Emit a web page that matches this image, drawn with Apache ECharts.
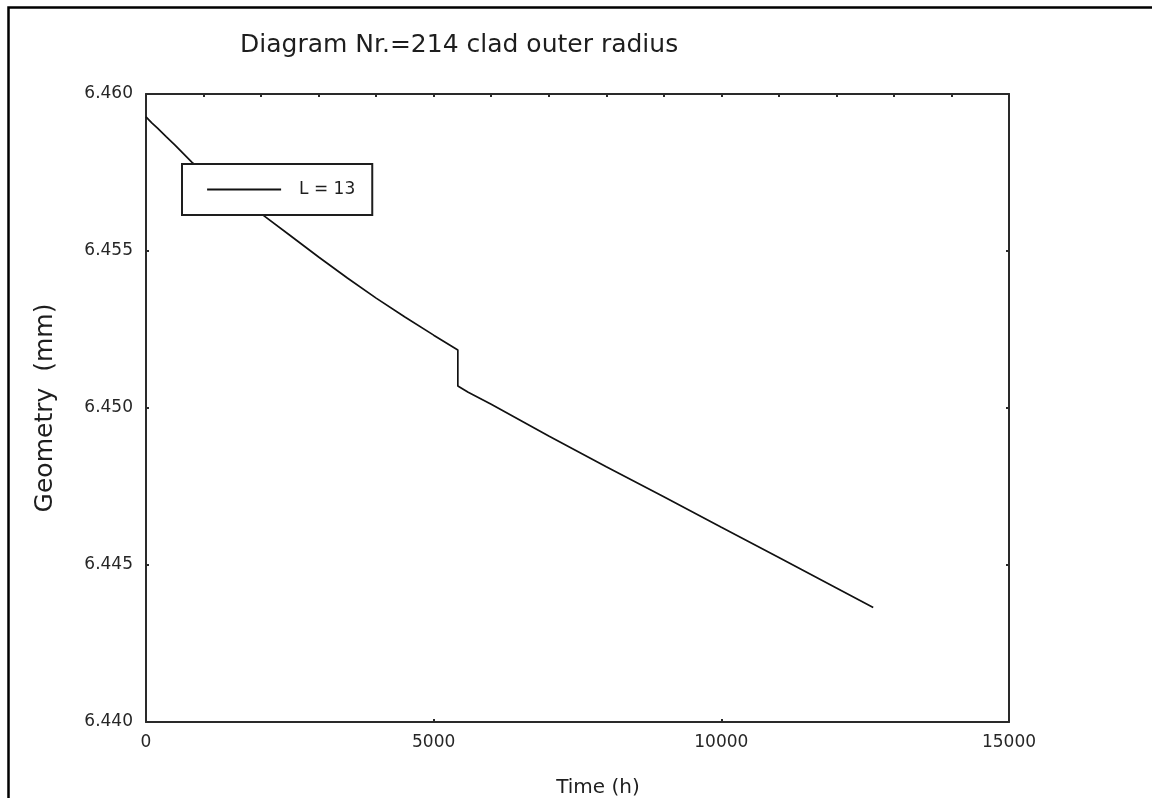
<!DOCTYPE html>
<html>
<head>
<meta charset="utf-8">
<script src="https://cdn.jsdelivr.net/npm/echarts@6/dist/echarts.min.js"></script>
<style>
html,body{margin:0;padding:0;background:#fff;}
#chart{width:1152px;height:798px;}
</style>
</head>
<body>
<div id="chart"></div>
<script>
// Data
const timeH = [0, 100, 200, 350, 500, 650, 800, 1200, 1600, 2000, 2500, 3000, 3500, 4000, 4500, 5000, 5420, 5420, 5600, 6000, 7000, 8000, 9000, 10000, 11000, 12000, 12640];
const geometryMm = [6.45927, 6.45908, 6.45891, 6.45864, 6.45838, 6.45810, 6.45782, 6.45725, 6.45670, 6.45619, 6.45550, 6.45481, 6.45414, 6.45350, 6.45290, 6.45232, 6.45185, 6.45070, 6.45050, 6.45012, 6.44911, 6.44813, 6.44717, 6.44620, 6.44524, 6.44427, 6.44365];
const seriesName = 'L = 13';
const titleText = 'Diagram Nr.=214 clad outer radius';
const xName = 'Time (h)';
const yName = 'Geometry  (mm)';
const xTicks = [0, 5000, 10000, 15000];
const yTicks = [6.440, 6.445, 6.450, 6.455, 6.460];

const FONT = 'DejaVu Sans';
const chart = echarts.init(document.getElementById('chart'), null, {renderer: 'canvas'});
const points = timeH.map((t, i) => [t, geometryMm[i]]);
const axisLineStyle = {color: '#2a2a2a', width: 2};
const tickStyle = {show: true, inside: true, length: 3, lineStyle: {color: '#2a2a2a', width: 2}};

chart.setOption({
  animation: false,
  backgroundColor: '#ffffff',
  title: {
    text: titleText,
    left: 235, top: 28,
    textStyle: {fontFamily: FONT, fontSize: 25, fontWeight: 'normal', color: '#1e1e1e'}
  },
  legend: {
    data: [seriesName],
    left: 182, top: 164,
    orient: 'horizontal',
    padding: [17, 17, 17, 24],
    itemWidth: 74, itemHeight: 14,
    backgroundColor: '#ffffff',
    borderColor: '#1e1e1e', borderWidth: 2,
    textStyle: {fontFamily: FONT, fontSize: 17, color: '#1e1e1e', padding: [0, 0, 0, 13]},
    itemStyle: {opacity: 0},
    lineStyle: {color: '#111', width: 2.2}
  },
  grid: {left: 146, top: 94, width: 863, height: 628, containLabel: false},
  xAxis: [{
    type: 'value', position: 'bottom',
    min: xTicks[0], max: xTicks[xTicks.length - 1], interval: xTicks[1] - xTicks[0],
    axisLine: {show: true, onZero: false, lineStyle: axisLineStyle},
    axisTick: tickStyle,
    axisLabel: {margin: 12, fontFamily: FONT, fontSize: 17, color: '#262626', formatter: v => String(v)},
    splitLine: {show: false}
  }, {
    type: 'value', position: 'top',
    min: 0, max: 15000, interval: 1000,
    axisLine: {show: true, onZero: false, lineStyle: axisLineStyle},
    axisTick: tickStyle,
    axisLabel: {show: false},
    splitLine: {show: false}
  }],
  yAxis: [{
    type: 'value', position: 'left',
    min: yTicks[0], max: yTicks[yTicks.length - 1], interval: 0.005,
    axisLine: {show: true, onZero: false, lineStyle: axisLineStyle},
    axisTick: tickStyle,
    axisLabel: {margin: 13, fontFamily: FONT, fontSize: 17, color: '#262626', formatter: v => v.toFixed(3)},
    splitLine: {show: false}
  }, {
    type: 'value', position: 'right',
    min: yTicks[0], max: yTicks[yTicks.length - 1], interval: 0.005,
    axisLine: {show: true, onZero: false, lineStyle: axisLineStyle},
    axisTick: tickStyle,
    axisLabel: {show: false},
    splitLine: {show: false}
  }],
  series: [{
    name: seriesName,
    type: 'line',
    xAxisIndex: 0, yAxisIndex: 0,
    data: points,
    symbol: 'none',
    showSymbol: false,
    lineStyle: {color: '#111', width: 1.7},
    itemStyle: {color: '#111'},
    z: 2
  }],
  graphic: [{
    type: 'rect',
    shape: {x: 8.5, y: 7.5, width: 1400, height: 1000},
    style: {fill: null, stroke: '#000', lineWidth: 2.5},
    silent: true
  }, {
    type: 'text',
    x: 598, y: 788,
    style: {text: xName, fontFamily: FONT, fontSize: 20, fill: '#1e1e1e', align: 'center', verticalAlign: 'middle'},
    silent: true
  }, {
    type: 'text',
    x: 45, y: 408,
    rotation: Math.PI / 2,
    style: {text: yName, fontFamily: FONT, fontSize: 25, fill: '#1e1e1e', align: 'center', verticalAlign: 'middle'},
    silent: true
  }]
});
</script>
</body>
</html>
